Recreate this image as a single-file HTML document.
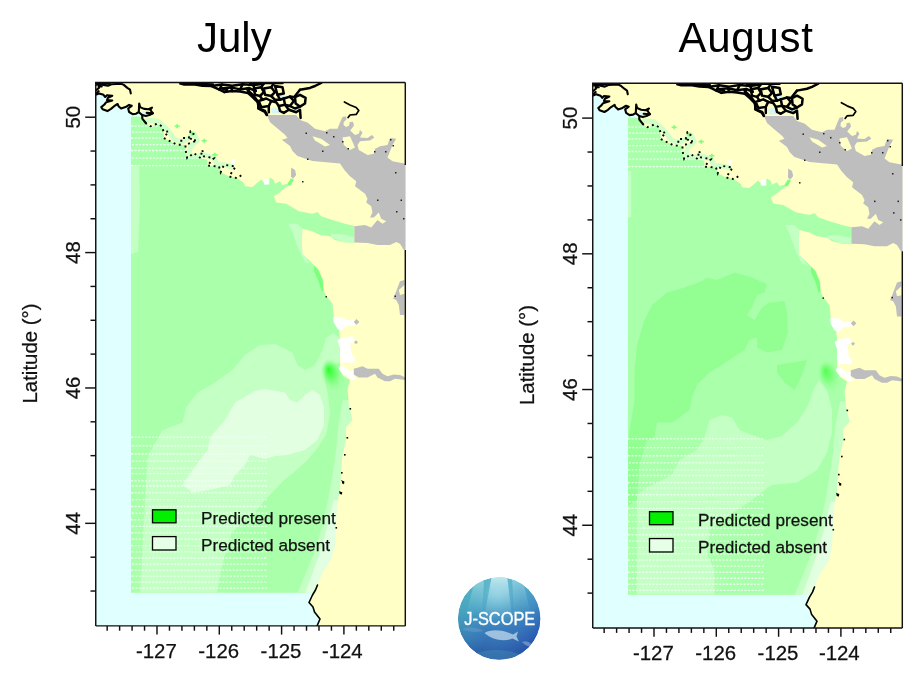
<!DOCTYPE html>
<html lang="en"><head><meta charset="utf-8"><title>J-SCOPE July / August</title>
<style>
html,body{margin:0;padding:0;background:#fff;}
body{width:924px;height:680px;overflow:hidden;position:relative;font-family:"Liberation Sans",sans-serif;}
svg{position:absolute;left:0;top:0;display:block}
.title{position:absolute;top:13.8px;font-size:42px;line-height:48px;color:#000;white-space:nowrap;transform-origin:0 0;}
</style></head><body>
<svg width="924" height="680" viewBox="0 0 924 680">
<defs>
<clipPath id="clipP"><rect x="95.75" y="82.40" width="310.15" height="543.50"/></clipPath><!--clip-->
<clipPath id="clipLogo"><circle cx="499.2" cy="618.5" r="41.3"/></clipPath>
<radialGradient id="plume" cx="0.5" cy="0.5" r="0.5" fx="0.40" fy="0.30"><stop offset="0" stop-color="#22FF22" stop-opacity="0.95"/><stop offset="0.45" stop-color="#55FF55" stop-opacity="0.7"/><stop offset="1" stop-color="#99FF99" stop-opacity="0"/></radialGradient>
<linearGradient id="lg1" x1="0" y1="0" x2="0" y2="1"><stop offset="0" stop-color="#62BFD3"/><stop offset="0.35" stop-color="#4A9FC8"/><stop offset="0.62" stop-color="#3877BC"/><stop offset="1" stop-color="#2A4EA6"/></linearGradient>
<radialGradient id="lg2" cx="0.47" cy="0.2" r="0.75"><stop offset="0" stop-color="#9FDDE6" stop-opacity="0.6"/><stop offset="0.6" stop-color="#3F8FC0" stop-opacity="0"/><stop offset="1" stop-color="#1E4C9C" stop-opacity="0.45"/></radialGradient>
<linearGradient id="lg3" x1="0" y1="0.3" x2="1" y2="0.7"><stop offset="0" stop-color="#48B4B4" stop-opacity="0.55"/><stop offset="0.45" stop-color="#48A8C0" stop-opacity="0.12"/><stop offset="1" stop-color="#2446B0" stop-opacity="0.45"/></linearGradient>
<linearGradient id="ray" x1="0" y1="0" x2="0" y2="1"><stop offset="0" stop-color="#D8F4F8" stop-opacity="0.85"/><stop offset="1" stop-color="#9ED8E8" stop-opacity="0"/></linearGradient>
<g id="base">

<path d="M95.8,82.4 L405.3,82.4 L405.3,625.9 L317.0,625.9 L317.0,626.0 L320.0,619.0 L314.0,610.0 L309.0,602.5 L312.5,595.0 L317.5,585.0 L322.5,572.5 L331.0,560.0 L335.0,545.0 L336.0,525.0 L337.5,502.5 L340.0,490.0 L341.0,472.5 L342.5,455.0 L346.0,440.0 L346.0,427.5 L352.5,420.0 L349.0,405.0 L347.5,390.0 L350.0,380.0 L342.5,375.0 L340.0,365.0 L340.0,337.5 L339.0,329.0 L334.0,317.0 L333.8,316.2 L332.5,303.8 L327.5,297.5 L323.8,291.2 L323.1,280.0 L318.8,270.0 L308.8,260.0 L302.5,253.8 L301.9,242.5 L302.5,228.8 L312.5,231.2 L320.0,235.0 L330.0,236.2 L335.0,240.0 L345.0,242.5 L354.4,243.1 L354.4,226.0 L345.0,223.8 L332.5,220.0 L321.2,216.2 L317.5,211.9 L312.5,213.8 L298.8,211.2 L286.2,203.8 L276.2,202.5 L273.8,196.2 L280.0,192.5 L283.8,188.8 L290.0,185.0 L293.1,178.8 L290.6,178.8 L287.5,183.8 L282.5,185.0 L280.0,181.2 L275.0,183.8 L273.8,180.0 L270.0,177.5 L266.2,185.0 L261.2,179.4 L252.5,186.9 L245.0,186.2 L243.9,183.2 L237.4,178.2 L229.0,176.5 L220.7,172.3 L219.0,166.5 L207.3,165.6 L207.3,159.8 L200.6,158.1 L193.9,154.7 L187.2,158.1 L185.5,149.7 L185.5,144.7 L181.3,144.7 L177.1,144.7 L168.7,140.5 L163.7,138.0 L163.7,132.1 L162.0,126.3 L157.0,123.7 L150.3,126.3 L145.8,123.0 L142.3,118.6 L142.3,115.1 L138.8,112.0 L136.1,113.7 L132.6,114.2 L129.1,112.0 L128.2,108.5 L131.7,105.8 L129.1,104.9 L125.5,107.1 L121.1,108.5 L118.5,106.2 L117.6,104.0 L114.1,106.2 L111.0,108.9 L107.4,111.1 L102.6,109.3 L101.3,107.1 L104.4,104.5 L106.1,102.3 L112.3,100.5 L107.0,100.1 L107.9,97.9 L112.3,95.7 L105.2,97.0 L103.5,94.8 L99.1,93.4 L95.5,94.8Z" fill="#FFFFC6"/>
<path d="M145.3,119.9 L157.0,120.9 L163.7,126.3 L168.7,131.3 L173.8,138.8 L181.3,142.2 L188.8,138.0 L193.9,133.8 L197.2,140.5 L190.5,146.4 L188.8,154.7 L197.2,156.4 L203.9,154.7 L214.0,158.1 L217.3,164.8 L224.0,164.8 L234.1,167.3" fill="none" stroke="#C8FFC8" stroke-width="5" stroke-linejoin="round" opacity="0.85"/>
<path d="M201.7,140.7 h5 M204.2,138.7 v4" stroke="#7CFF7C" stroke-width="1.6" fill="none"/>
<path d="M174.6,126.3 h5 M177.1,124.3 v4" stroke="#7CFF7C" stroke-width="1.6" fill="none"/>
<path d="M212.3,154.7 h5 M214.8,152.7 v4" stroke="#7CFF7C" stroke-width="1.6" fill="none"/>
<path d="M189.7,133.8 h5 M192.2,131.8 v4" stroke="#7CFF7C" stroke-width="1.6" fill="none"/>
<rect x="231.5" y="158.9" width="3.5" height="4.5" fill="#fff"/>
<rect x="263.8" y="179" width="5.5" height="5.5" fill="#fff"/>
<path d="M287.5,184.5 L291,178.5 L294,179.5 L290.5,185.5Z" fill="#7DFF7D"/>
<path d="M333.1,316.9 L342.5,316.9 L346.2,320.0 L355.0,320.6 L355.0,325.0 L346.2,326.2 L341.2,331.2 L337.5,328.8 L333.8,322.5Z" fill="#FFFFFF"/>
<path d="M337.5,340.6 L342.5,337.5 L352.5,336.2 L355.0,341.2 L350.0,343.8 L351.2,350.0 L351.9,355.0 L355.0,358.8 L353.8,363.1 L347.5,362.5 L341.2,363.1 L340.0,355.0 L340.0,347.5Z" fill="#FFFFFF"/>
<path d="M340.0,366.2 L343.8,366.2 L350.0,371.2 L353.8,370.0 L353.8,375.0 L356.2,378.8 L352.5,380.0 L347.5,376.2 L341.2,372.5 L338.8,368.8Z" fill="#FFFFFF"/>
<path d="M266.9,115.0 L296.2,115.0 L300.0,120.0 L307.5,122.5 L315.0,128.8 L325.0,131.2 L330.0,128.8 L337.5,128.8 L340.0,122.5 L342.5,116.9 L346.0,116.2 L346.5,119.4 L343.8,121.9 L343.5,125.0 L346.0,127.0 L349.0,125.8 L349.8,122.0 L353.0,121.8 L354.0,125.5 L350.2,130.5 L355.0,135.0 L358.8,133.8 L360.0,130.0 L362.5,132.5 L360.0,137.5 L367.5,138.1 L371.9,135.0 L374.4,137.5 L370.0,140.6 L360.0,141.2 L357.5,145.0 L358.8,150.0 L367.5,155.0 L373.8,153.8 L375.0,148.8 L380.0,146.2 L387.5,145.0 L390.0,138.1 L396.2,138.8 L392.5,145.0 L390.0,151.2 L387.5,157.5 L392.5,161.2 L405.6,163.8 L405.6,250.0 L403.8,250.0 L400.0,243.8 L396.2,241.9 L390.0,245.0 L377.5,245.0 L367.5,243.1 L354.4,242.5 L354.4,226.2 L365.0,225.0 L371.2,227.5 L377.5,220.0 L382.5,223.8 L386.2,221.2 L381.2,218.8 L378.8,212.5 L373.8,217.5 L370.0,217.5 L372.5,212.5 L371.2,206.2 L366.2,202.5 L367.5,198.8 L365.0,193.8 L355.0,186.2 L356.2,181.2 L350.0,176.2 L344.4,170.0 L340.0,163.5 L312.5,161.0 L305.0,158.5 L297.5,156.0 L292.5,151.0 L290.0,146.0 L285.0,142.2 L281.9,139.8 L287.5,137.9 L285.0,134.8 L277.5,128.5 L270.0,122.2 L266.9,114.8Z" fill="#BEBEBE"/>
<path d="M400.0,281.2 L404.4,280.0 L404.4,285.0 L398.8,290.0 L400.0,295.0 L404.4,293.8 L404.4,315.0 L400.0,315.0 L398.8,305.0 L396.2,300.0 L393.1,298.8 L396.2,291.2Z" fill="#BEBEBE"/>
<path d="M291.2,167.5 L295.0,170.0 L296.2,175.0 L293.1,178.8 L291.0,176.2Z" fill="#BEBEBE"/>
<path d="M353.8,368.8 L362.5,366.2 L367.5,368.8 L378.8,368.8 L382.5,373.8 L387.5,376.2 L393.8,374.4 L400.0,375.0 L405.6,377.5 L405.6,380.0 L395.0,378.8 L390.0,381.2 L385.0,381.2 L377.5,377.5 L375.0,373.8 L367.5,377.5 L358.8,377.5 L353.8,374.4Z" fill="#BEBEBE"/>
<path d="M356.5,319.0 L359.4,321.9 L356.5,324.8 L353.8,321.9Z" fill="#BEBEBE"/>
<path d="M356.0,340.2 L358.0,342.2 L356.0,344.2 L354.0,342.2Z" fill="#BEBEBE"/>
<path d="M342.5,137.5 L350.0,136.2 L355.0,147.5 L350.0,150.0 L343.8,145.0Z" fill="#FFFFC6"/>
<path d="M312.5,136.2 L321.2,138.8 L330.0,145.0 L325.0,146.5 L315.0,140.6Z" fill="#FFFFC6"/>
<path d="M277.5,94.8 L285.0,94.8 L286.2,99.8 L280.0,100.4Z" fill="#D8F4F4"/>
<path d="M271.2,107.9 L278.8,107.2 L280.0,113.5 L271.9,113.5Z" fill="#D8F4F4"/>
<path d="M290.0,109.1 L298.8,107.9 L298.8,111.6 L292.5,112.9Z" fill="#D8F4F4"/>
<g fill="none" stroke="#000" stroke-width="2.5" stroke-linejoin="round" stroke-linecap="round">
<path d="M250.0,84.1 L262.5,82.9 L282.5,82.9"/>
<path d="M247.5,89.8 L253.8,96.0 L257.5,101.0 L258.8,108.5 L265.0,111.0 L266.9,114.8"/>
<path d="M253.8,88.5 L261.2,87.2 L263.8,92.2 L260.0,96.0 L255.0,94.8 L253.8,88.5"/>
<path d="M263.8,88.5 L271.2,87.2 L275.0,92.2 L271.2,96.0 L265.0,94.8 L263.8,88.5"/>
<path d="M258.8,101.0 L266.2,98.5 L271.2,101.0 L268.8,106.0 L261.2,107.2 L258.8,101.0"/>
<path d="M275.0,86.0 L282.5,87.2 L283.8,93.5 L277.5,94.8 L275.0,86.0"/>
<path d="M283.8,98.5 L290.0,96.6 L293.8,101.0 L290.0,106.0 L285.0,104.8 L283.8,98.5"/>
<path d="M295.0,97.2 L300.0,94.8 L305.6,97.9 L305.0,103.5 L300.0,106.6 L295.6,103.5 L295.0,97.2"/>
<path d="M278.8,106.0 L285.0,104.8 L288.8,109.8 L283.8,112.9 L280.0,111.0 L278.8,106.0"/>
<path d="M271.2,101.0 L276.2,102.2 L278.8,106.0"/>
<path d="M268.8,106.0 L268.8,112.2"/>
<path d="M288.8,109.8 L296.2,112.2 L300.0,109.8 L300.6,117.9"/>
<path d="M300.0,89.8 L295.0,96.0"/>
<path d="M300.0,89.8 L310.0,87.9 L315.0,86.0 L321.2,82.9"/>
<path d="M277.5,94.8 L280.0,99.8 L283.8,98.5"/>
<path d="M290.0,96.6 L295.0,97.2"/>
<path d="M261.2,87.2 L263.8,83.5"/>
<path d="M271.2,87.2 L273.8,83.5"/>
<path d="M260.0,96.0 L262.5,99.8"/>
<path d="M271.2,96.0 L275.0,99.8 L280.0,99.8"/>
<path d="M290.0,106.0 L295.0,108.5 L300.0,106.6"/>
<path d="M180.4,83.5 L184.3,84.5 L193.4,84.2 L202.5,85.8 L211.6,86.1 L219.4,89.7 L224.5,92.0 L232.3,91.0 L240.1,91.6 L247.9,92.9 L253.1,97.5 L258.3,102.7 L258.3,108.5 L264.8,111.8 L266.8,115.0"/>
<path d="M211.6,86.1 L221.9,84.5 L232.3,85.8 L242.7,84.2 L253.1,85.1 L263.5,83.8"/>
<path d="M221.9,88.4 L231.0,87.4 L240.1,89.4 L249.2,88.1 L255.7,91.0"/>
<path d="M219.4,89.7 L221.9,84.5"/>
<path d="M231.0,87.4 L232.3,91.0"/>
<path d="M240.1,89.4 L242.7,84.2"/>
<path d="M249.2,88.1 L247.9,92.9"/>
<path d="M255.7,91.0 L253.1,85.1"/>
<path d="M183.0,83.5 L202.5,84.0 L212.9,84.5"/>
<path d="M224.5,92.0 L227.1,89.9 L221.9,88.4"/>
</g>
<path d="M141.4,111.1 L145.0,110.7 L147.2,113.3 L145.8,116.0 L142.8,114.6Z" fill="#DDF6F6"/>
<g fill="none" stroke="#000" stroke-width="2.1" stroke-linejoin="round" stroke-linecap="round">
<path d="M95.5,94.8 L99.1,93.4 L103.5,94.8 L105.2,97.0 L107.0,95.2 L112.3,95.7 L107.9,97.9 L107.0,100.1 L112.3,100.5 L106.1,102.3 L104.4,104.5 L101.3,107.1 L102.6,109.3 L107.4,111.1 L111.0,108.9 L114.1,106.2 L117.6,104.0 L118.5,106.2 L121.1,108.5 L125.5,107.1 L129.1,104.9 L131.7,105.8 L128.2,108.5 L129.1,112.0 L132.6,114.2 L136.1,113.7 L138.8,112.0 L139.2,103.6 L140.1,107.1 L144.1,108.9 L148.5,109.3 L152.0,107.6 L150.3,109.8 L152.9,113.3 L149.4,115.1 L145.8,116.0 L142.3,115.1 L140.1,113.3 L138.8,112.0"/>
<path d="M142.3,115.1 L142.3,118.6 L145.8,123.0"/>
<path d="M146.7,112.9 L152.9,113.3"/>
<path d="M96.0,83.3 L99.9,84.0 L103.5,84.9 L107.9,85.8 L111.4,84.2 L121.1,83.7 L123.8,84.9 L127.3,87.9 L130.0,89.7 L130.8,93.4"/>
<path d="M96.0,90.4 L99.1,87.7 L98.6,85.9 L101.7,86.4"/>
<path d="M96.4,93.2 L98.6,91.2"/>
<path d="M96.0,84.6 L109.7,83.5"/>
<path d="M344.4,101.9 L350.0,105.0 L356.2,107.5 L358.8,110.6 L356.2,114.4 L350.0,115.0 L348.1,117.5" stroke-width="1.7"/>
<path d="M317.5,585.0 L315.5,590.0 L312.5,595.0 L309.0,602.5 L313.0,607.0 L314.5,612.0 L320.0,619.0 L317.0,626.0" stroke-width="1.6"/>
</g>
<path d="M145.3,122.9 L150.3,126.3 L157.0,123.7 L162.0,126.3 L163.7,132.1 L168.7,131.3 L163.7,138.0 L168.7,140.5 L177.1,144.7 L181.3,144.7 L181.3,138.0 L188.8,138.0 L190.5,131.3 L193.9,133.0 L190.5,139.7 L197.2,140.5 L185.5,144.7 L185.5,149.7 L187.2,158.1 L193.9,153.1 L200.6,158.1 L202.2,149.7 L203.9,156.4 L214.0,158.1 L207.3,165.6 L219.0,166.5 L220.7,172.3 L224.0,164.8 L235.7,166.5 L229.0,176.5 L237.4,178.2 L243.9,173.2" fill="none" stroke="#000" stroke-width="1.9" stroke-dasharray="1.9 3.6"/>
<rect x="349.5" y="408.0" width="1.6" height="1.6" fill="#000"/>
<rect x="346.5" y="437.0" width="1.6" height="1.6" fill="#000"/>
<rect x="344.0" y="454.0" width="1.6" height="1.6" fill="#000"/>
<rect x="341.0" y="472.0" width="1.6" height="1.6" fill="#000"/>
<rect x="342.0" y="482.0" width="1.6" height="1.6" fill="#000"/>
<rect x="340.5" y="492.0" width="1.6" height="1.6" fill="#000"/>
<rect x="335.5" y="527.0" width="1.6" height="1.6" fill="#000"/>
<path d="M340.8,480 l3.6,1.6 l-0.4,2.8 z M339.2,491 l3,1.4 l-0.6,2.4 l-2,-1 z" fill="#000"/>
<rect x="305.5" y="132.5" width="1.5" height="1.5" fill="#222"/>
<rect x="326.0" y="132.0" width="1.5" height="1.5" fill="#222"/>
<rect x="333.0" y="136.0" width="1.5" height="1.5" fill="#222"/>
<rect x="342.0" y="141.0" width="1.5" height="1.5" fill="#222"/>
<rect x="347.5" y="148.0" width="1.5" height="1.5" fill="#222"/>
<rect x="322.0" y="150.5" width="1.5" height="1.5" fill="#222"/>
<rect x="307.0" y="158.5" width="1.5" height="1.5" fill="#222"/>
<rect x="390.0" y="139.0" width="1.5" height="1.5" fill="#222"/>
<rect x="385.0" y="151.0" width="1.5" height="1.5" fill="#222"/>
<rect x="392.5" y="145.0" width="1.5" height="1.5" fill="#222"/>
<rect x="374.0" y="151.0" width="1.5" height="1.5" fill="#222"/>
<rect x="377.0" y="199.5" width="1.5" height="1.5" fill="#222"/>
<rect x="400.5" y="199.5" width="1.5" height="1.5" fill="#222"/>
<rect x="396.0" y="211.0" width="1.5" height="1.5" fill="#222"/>
<rect x="403.0" y="218.0" width="1.5" height="1.5" fill="#222"/>
<rect x="395.0" y="172.0" width="1.5" height="1.5" fill="#222"/>
<rect x="302.0" y="181.0" width="1.5" height="1.5" fill="#222"/>
<rect x="394.5" y="295.5" width="1.5" height="1.5" fill="#222"/>
<rect x="325.5" y="296.0" width="1.5" height="1.5" fill="#222"/>
</g>
<g id="axes">
<g stroke="#111" stroke-width="1.45" fill="none">
<path d="M405.30,82.40 H95.75 V625.90"/>
<path d="M95.75,625.90 H405.30" stroke-width="1.4"/>
<path d="M405.30,82.40 V165.00 M405.30,250.00 V625.90"/>
<path d="M95.75,117.20 H85.20"/>
<path d="M95.75,151.05 H90.50"/>
<path d="M95.75,184.89 H90.50"/>
<path d="M95.75,218.74 H90.50"/>
<path d="M95.75,252.58 H85.20"/>
<path d="M95.75,286.43 H90.50"/>
<path d="M95.75,320.27 H90.50"/>
<path d="M95.75,354.12 H90.50"/>
<path d="M95.75,387.96 H85.20"/>
<path d="M95.75,421.81 H90.50"/>
<path d="M95.75,455.65 H90.50"/>
<path d="M95.75,489.49 H90.50"/>
<path d="M95.75,523.34 H85.20"/>
<path d="M95.75,557.19 H90.50"/>
<path d="M95.75,591.03 H90.50"/>
<path d="M107.16,625.90 V630.70"/>
<path d="M119.62,625.90 V630.70"/>
<path d="M132.08,625.90 V630.70"/>
<path d="M144.54,625.90 V630.70"/>
<path d="M157.00,625.90 V634.60"/>
<path d="M169.46,625.90 V630.70"/>
<path d="M181.92,625.90 V630.70"/>
<path d="M194.38,625.90 V630.70"/>
<path d="M206.84,625.90 V630.70"/>
<path d="M219.30,625.90 V634.60"/>
<path d="M231.76,625.90 V630.70"/>
<path d="M244.22,625.90 V630.70"/>
<path d="M256.68,625.90 V630.70"/>
<path d="M269.14,625.90 V630.70"/>
<path d="M281.60,625.90 V634.60"/>
<path d="M294.06,625.90 V630.70"/>
<path d="M306.52,625.90 V630.70"/>
<path d="M318.98,625.90 V630.70"/>
<path d="M331.44,625.90 V630.70"/>
<path d="M343.90,625.90 V634.60"/>
<path d="M356.36,625.90 V630.70"/>
<path d="M368.82,625.90 V630.70"/>
<path d="M381.28,625.90 V630.70"/>
<path d="M393.74,625.90 V630.70"/>
</g>
<g font-family="'Liberation Sans', sans-serif" font-size="20.4" fill="#111" stroke="#111" stroke-width="0.25" text-anchor="middle">
<text x="156.4" y="657.8">-127</text>
<text x="218.7" y="657.8">-126</text>
<text x="281.0" y="657.8">-125</text>
<text x="342.3" y="657.8">-124</text>
<text transform="translate(80.2,117.2) rotate(-90)">50</text>
<text transform="translate(80.2,252.6) rotate(-90)">48</text>
<text transform="translate(80.2,388.0) rotate(-90)">46</text>
<text transform="translate(80.2,523.3) rotate(-90)">44</text>
<text transform="translate(37,353.5) rotate(-90)">Latitude (°)</text>
</g>
<rect x="152.5" y="509.8" width="23.5" height="13" fill="#00F000" stroke="#000" stroke-width="1.3"/>
<rect x="152.5" y="536.6" width="23.5" height="13.4" fill="#E6FFE6" stroke="#000" stroke-width="1.3"/>
<g font-family="'Liberation Sans', sans-serif" font-size="17.2" fill="#111" stroke="#111" stroke-width="0.25">
<text x="201" y="524.3">Predicted present</text>
<text x="201" y="551">Predicted absent</text>
</g>
</g>
</defs>
<g id="panelJuly">
<g clip-path="url(#clipP)">
<rect x="95.75" y="82.40" width="309.55" height="543.50" fill="#E0FFFF"/>
<rect x="131.0" y="116.6" width="229.0" height="476.2" fill="#AAFFAA"/>
<path d="M131.0,165.0 L139.0,165.0 L140.0,200.0 L138.0,252.0 L131.0,254.0Z" fill="#C4FFC4"/>
<path d="M140.0,592.8 L142.5,550.0 L145.0,500.0 L147.5,460.0 L150.0,452.0 L162.5,430.0 L182.5,422.5 L186.0,407.5 L197.5,392.5 L212.5,384.0 L232.5,370.0 L245.0,355.0 L260.0,345.0 L275.0,344.0 L292.5,352.5 L297.5,365.0 L305.0,370.0 L315.0,365.0 L322.5,350.0 L326.0,338.0 L333.0,333.0 L341.0,338.0 L341.0,362.0 L330.0,366.0 L325.0,372.0 L325.0,381.0 L328.0,395.0 L330.0,413.0 L326.5,434.0 L317.6,448.0 L307.0,460.6 L293.0,473.0 L284.0,480.0 L265.0,500.0 L255.0,512.0 L232.0,532.0 L225.0,555.0 L220.0,575.0 L217.0,592.8Z" fill="#C4FFC4"/>
<path d="M182.5,485.0 L192.5,470.0 L207.5,450.0 L210.0,437.5 L225.0,420.0 L235.0,402.5 L255.0,391.0 L265.0,389.0 L285.0,392.5 L290.0,400.0 L297.5,402.5 L305.0,395.0 L312.5,390.0 L320.0,395.0 L324.0,407.5 L324.0,425.0 L317.5,440.0 L305.0,450.0 L287.5,455.0 L275.0,456.0 L265.0,459.0 L250.0,455.0 L245.0,465.0 L235.0,475.0 L230.0,485.0 L210.0,490.0 L192.5,492.5Z" fill="#E2FFE2"/>
<path d="M297.5,592.8 L305.0,575.0 L315.0,550.0 L322.5,525.0 L328.0,500.0 L332.5,475.0 L336.0,450.0 L339.0,420.0 L343.0,400.0 L355.0,400.0 L355.0,592.8Z" fill="#C4FFC4"/>
<path d="M305.0,592.8 L312.0,575.0 L320.0,552.0 L326.0,532.0 L330.0,515.0 L334.0,500.0 L345.0,500.0 L345.0,592.8Z" fill="#E2FFE2"/>
<path d="M288.1,223.8 L297.5,223.8 L302.5,228.8 L303.8,240.0 L304.4,255.0 L310.0,263.8 L305.0,262.5 L298.8,250.0 L292.5,232.5Z" fill="#C4FFC4"/>
<path d="M331.2,233.8 L343.8,234.4 L354.4,236.9 L354.4,243.1 L342.5,241.9 L331.2,236.9Z" fill="#C4FFC4"/>
<path d="M314.0,265.0 L318.0,269.5 L322.5,280.0 L324.0,291.0 L321.5,291.0 L318.5,281.0 L314.0,271.0Z" fill="#7CFF7C"/>
<path d="M337,541.5 l2.4,2.4 l-2.4,2.4 l-2.4,-2.4z" fill="#66FF66"/>
<ellipse cx="332.5" cy="375" rx="11.5" ry="17" transform="rotate(-16 332.5 375)" fill="url(#plume)" opacity="1"/>
<g stroke="#F4FFFA" stroke-width="1.3" stroke-dasharray="2.2 1.3" opacity="0.85"><line x1="131.0" y1="126.2" x2="215.0" y2="126.2"/><line x1="131.8" y1="132.1" x2="215.0" y2="132.1"/><line x1="131.0" y1="138.0" x2="215.0" y2="138.0"/><line x1="131.8" y1="144.7" x2="215.0" y2="144.7"/><line x1="131.0" y1="150.5" x2="215.0" y2="150.5"/><line x1="131.8" y1="158.1" x2="215.0" y2="158.1"/><line x1="131.0" y1="165.6" x2="215.0" y2="165.6"/></g>
<g stroke="#F4FFFA" stroke-width="1.3" stroke-dasharray="2.2 1.3" opacity="0.80"><line x1="131.0" y1="437.2" x2="267.5" y2="437.2"/><line x1="131.8" y1="445.9" x2="267.5" y2="445.9"/><line x1="131.0" y1="454.0" x2="267.5" y2="454.0"/><line x1="131.8" y1="461.2" x2="267.5" y2="461.2"/><line x1="131.0" y1="468.1" x2="267.5" y2="468.1"/><line x1="131.8" y1="473.7" x2="267.5" y2="473.7"/><line x1="131.0" y1="480.8" x2="267.5" y2="480.8"/><line x1="131.8" y1="486.0" x2="267.5" y2="486.0"/><line x1="131.0" y1="492.9" x2="267.5" y2="492.9"/><line x1="131.8" y1="499.7" x2="267.5" y2="499.7"/><line x1="131.0" y1="506.5" x2="267.5" y2="506.5"/><line x1="131.8" y1="513.2" x2="267.5" y2="513.2"/><line x1="131.0" y1="519.8" x2="267.5" y2="519.8"/><line x1="131.8" y1="526.3" x2="267.5" y2="526.3"/><line x1="131.0" y1="532.8" x2="267.5" y2="532.8"/><line x1="131.8" y1="539.2" x2="267.5" y2="539.2"/><line x1="131.0" y1="545.6" x2="267.5" y2="545.6"/><line x1="131.8" y1="551.8" x2="267.5" y2="551.8"/><line x1="131.0" y1="558.0" x2="267.5" y2="558.0"/><line x1="131.8" y1="564.2" x2="267.5" y2="564.2"/><line x1="131.0" y1="570.2" x2="267.5" y2="570.2"/><line x1="131.8" y1="576.2" x2="267.5" y2="576.2"/><line x1="131.0" y1="582.2" x2="267.5" y2="582.2"/><line x1="131.8" y1="588.2" x2="267.5" y2="588.2"/></g>
<use href="#base"/>
</g>
<use href="#axes"/>
</g>
<g id="panelAugust" transform="translate(497,0.607) scale(1,1.0025)">
<g clip-path="url(#clipP)">
<rect x="95.75" y="82.40" width="309.55" height="543.50" fill="#E0FFFF"/>
<rect x="131.0" y="116.6" width="229.0" height="476.2" fill="#AAFFAA"/>
<path d="M131,170 H134.2 V216 H131Z" fill="#C4FFC4"/>
<path d="M137.5,368.5 L140.0,343.5 L147.5,318.6 L155.0,303.6 L170.0,291.2 L187.5,286.2 L205.0,279.7 L210.0,276.2 L220.0,278.7 L237.5,271.2 L255.0,276.2 L270.0,282.7 L267.5,291.2 L260.0,293.7 L255.0,306.1 L250.0,313.6 L257.5,318.6 L265.0,306.1 L272.5,301.1 L287.5,299.6 L290.0,311.1 L291.0,331.1 L285.0,348.5 L270.0,351.0 L260.0,346.0 L260.0,336.1 L252.5,338.5 L247.5,348.5 L232.5,358.5 L225.0,363.5 L212.5,371.0 L200.0,383.4 L195.0,395.9 L192.5,408.4 L182.5,415.9 L175.0,420.8 L160.0,420.8 L157.5,435.8 L150.0,438.3 L142.5,463.2 L140.0,498.1 L131.0,504.1 L131.0,438.3 L137.5,398.4Z" fill="#93FF93"/>
<path d="M280.0,363.5 L295.0,361.0 L310.0,358.5 L305.0,373.5 L297.5,388.4 L287.5,380.9 L280.0,371.0Z" fill="#93FF93"/>
<path d="M207.5,435.8 L212.5,418.3 L225.0,413.4 L235.0,415.9 L242.5,428.3 L255.0,433.3 L270.0,438.3 L285.0,434.3 L300.0,420.8 L310.0,405.9 L317.5,385.9 L322.5,378.4 L330.0,388.4 L335.0,408.4 L335.0,430.8 L330.0,450.8 L320.0,468.2 L300.0,480.7 L275.0,483.2 L267.5,488.2 L255.0,498.1 L232.5,513.1 L212.5,528.1 L210.0,553.0 L217.5,568.0 L217.5,592.4 L140.0,592.4 L140.0,493.2 L150.0,485.7 L175.0,473.2 L182.5,458.2 L200.0,448.3Z" fill="#C4FFC4"/>
<path d="M297.5,592.8 L305.0,575.0 L315.0,550.0 L322.5,525.0 L328.0,500.0 L332.5,475.0 L336.0,450.0 L339.0,420.0 L343.0,400.0 L355.0,400.0 L355.0,592.8Z" fill="#C4FFC4"/>
<path d="M305.0,592.8 L312.0,575.0 L320.0,552.0 L326.0,532.0 L330.0,515.0 L334.0,500.0 L345.0,500.0 L345.0,592.8Z" fill="#E2FFE2"/>
<path d="M288.1,223.8 L297.5,223.8 L302.5,228.8 L303.8,240.0 L304.4,255.0 L310.0,263.8 L305.0,262.5 L298.8,250.0 L292.5,232.5Z" fill="#C4FFC4"/>
<path d="M331.2,233.8 L343.8,234.4 L354.4,236.9 L354.4,243.1 L342.5,241.9 L331.2,236.9Z" fill="#C4FFC4"/>
<path d="M314.0,265.0 L318.0,269.5 L322.5,280.0 L324.0,291.0 L321.5,291.0 L318.5,281.0 L314.0,271.0Z" fill="#7CFF7C"/>
<path d="M337,541.5 l2.4,2.4 l-2.4,2.4 l-2.4,-2.4z" fill="#66FF66"/>
<ellipse cx="332.5" cy="375" rx="11.5" ry="17" transform="rotate(-16 332.5 375)" fill="url(#plume)" opacity="0.7"/>
<g stroke="#F4FFFA" stroke-width="1.3" stroke-dasharray="2.2 1.3" opacity="0.85"><line x1="131.0" y1="126.2" x2="215.0" y2="126.2"/><line x1="131.8" y1="132.1" x2="215.0" y2="132.1"/><line x1="131.0" y1="138.0" x2="215.0" y2="138.0"/><line x1="131.8" y1="144.7" x2="215.0" y2="144.7"/><line x1="131.0" y1="150.5" x2="215.0" y2="150.5"/><line x1="131.8" y1="158.1" x2="215.0" y2="158.1"/><line x1="131.0" y1="165.6" x2="215.0" y2="165.6"/></g>
<g stroke="#F4FFFA" stroke-width="1.3" stroke-dasharray="2.2 1.3" opacity="0.80"><line x1="131.0" y1="437.2" x2="267.5" y2="437.2"/><line x1="131.8" y1="445.9" x2="267.5" y2="445.9"/><line x1="131.0" y1="454.0" x2="267.5" y2="454.0"/><line x1="131.8" y1="461.2" x2="267.5" y2="461.2"/><line x1="131.0" y1="468.1" x2="267.5" y2="468.1"/><line x1="131.8" y1="473.7" x2="267.5" y2="473.7"/><line x1="131.0" y1="480.8" x2="267.5" y2="480.8"/><line x1="131.8" y1="486.0" x2="267.5" y2="486.0"/><line x1="131.0" y1="492.9" x2="267.5" y2="492.9"/><line x1="131.8" y1="499.7" x2="267.5" y2="499.7"/><line x1="131.0" y1="506.5" x2="267.5" y2="506.5"/><line x1="131.8" y1="513.2" x2="267.5" y2="513.2"/><line x1="131.0" y1="519.8" x2="267.5" y2="519.8"/><line x1="131.8" y1="526.3" x2="267.5" y2="526.3"/><line x1="131.0" y1="532.8" x2="267.5" y2="532.8"/><line x1="131.8" y1="539.2" x2="267.5" y2="539.2"/><line x1="131.0" y1="545.6" x2="267.5" y2="545.6"/><line x1="131.8" y1="551.8" x2="267.5" y2="551.8"/><line x1="131.0" y1="558.0" x2="267.5" y2="558.0"/><line x1="131.8" y1="564.2" x2="267.5" y2="564.2"/><line x1="131.0" y1="570.2" x2="267.5" y2="570.2"/><line x1="131.8" y1="576.2" x2="267.5" y2="576.2"/><line x1="131.0" y1="582.2" x2="267.5" y2="582.2"/><line x1="131.8" y1="588.2" x2="267.5" y2="588.2"/></g>
<use href="#base"/>
</g>
<use href="#axes"/>
</g>
<g clip-path="url(#clipLogo)">
<circle cx="499.2" cy="618.5" r="41.3" fill="url(#lg1)"/>
<circle cx="499.2" cy="618.5" r="41.3" fill="url(#lg2)"/>
<circle cx="499.2" cy="618.5" r="41.3" fill="url(#lg3)"/>
<path d="M492,575 L507,575 L512,618 L484,618Z" fill="url(#ray)"/>
<path d="M474,584 L484,580 L482,615 L466,615Z" fill="url(#ray)" opacity="0.5"/>
<path d="M512,578 L524,584 L530,612 L514,614Z" fill="url(#ray)" opacity="0.45"/>
<ellipse cx="496" cy="662" rx="30" ry="12" fill="#4C9CB8" opacity="0.35"/>
<path d="M484.5,633 C489,629.5 500,629.5 508,632.5 L513,634.5 L518,631.5 L516.5,636.5 L518.8,641.5 L512.5,638.5 C506,641.5 493,641 484.5,633Z" fill="#A9C9E2" opacity="0.9"/>
<path d="M522,642 C525,640.5 529,641.5 531,644 L533.5,643 L533,646.5 C529,647 525,645.5 522,642Z" fill="#6F93C4" opacity="0.9"/>
<path d="M462,629 C470,626 478,628 484,631 C476,633 468,632 462,629Z" fill="#6E9CCB" opacity="0.5"/>
</g>
<text x="499.8" y="625.2" font-family="'Liberation Sans', sans-serif" font-size="18.2" fill="#fff" stroke="#fff" stroke-width="0.35" text-anchor="middle" textLength="71" lengthAdjust="spacingAndGlyphs">J-SCOPE</text>
</svg>
<div class="title" style="left:197px;">July</div>
<div class="title" style="left:678.5px;letter-spacing:0.75px;">August</div>
</body></html>
